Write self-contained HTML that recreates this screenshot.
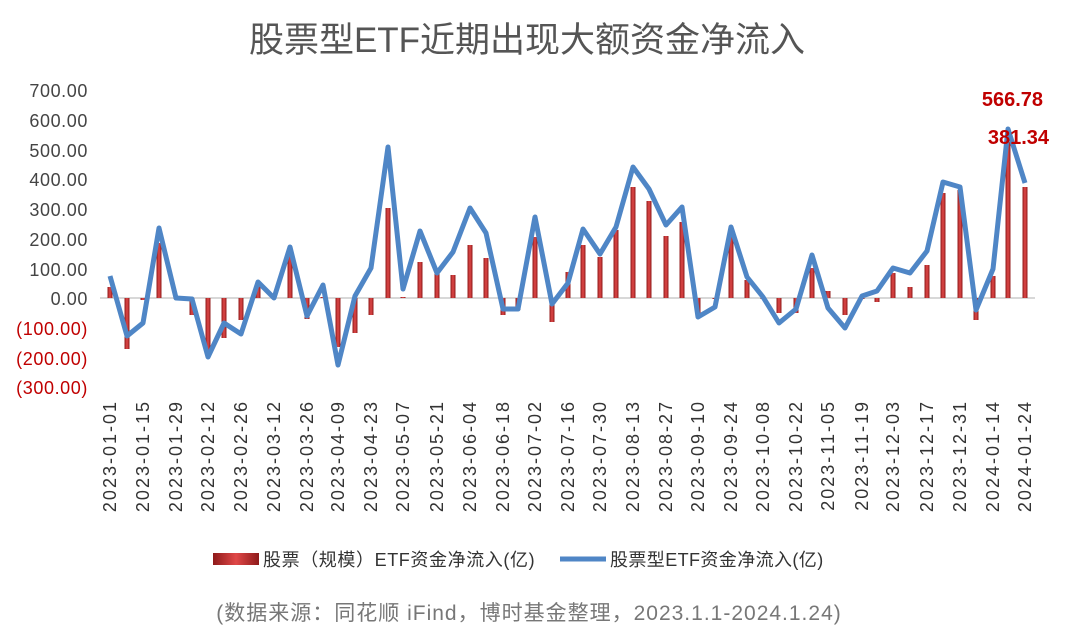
<!DOCTYPE html><html><head><meta charset="utf-8"><style>body{margin:0;background:#fff}svg{display:block}text{font-family:"Liberation Sans","Noto Sans CJK SC",sans-serif}</style></head><body>
<svg width="1078" height="633" viewBox="0 0 1078 633">
<defs><linearGradient id="g" x1="0" x2="1"><stop offset="0" stop-color="#8e1a1a"/><stop offset="0.5" stop-color="#e04848"/><stop offset="1" stop-color="#8e1a1a"/></linearGradient></defs>
<text x="527" y="52" text-anchor="middle" font-size="35" fill="#555">股票型ETF近期出现大额资金净流入</text>
<g font-size="18" letter-spacing="0.6" text-anchor="end">
<text x="88" y="97" fill="#444">700.00</text><text x="88" y="127" fill="#444">600.00</text><text x="88" y="157" fill="#444">500.00</text><text x="88" y="186" fill="#444">400.00</text><text x="88" y="216" fill="#444">300.00</text><text x="88" y="246" fill="#444">200.00</text><text x="88" y="276" fill="#444">100.00</text><text x="88" y="305" fill="#444">0.00</text><text x="88" y="335" fill="#c00000">(100.00)</text><text x="88" y="365" fill="#c00000">(200.00)</text><text x="88" y="394" fill="#c00000">(300.00)</text>
</g>
<line x1="100" y1="298" x2="1035" y2="298" stroke="#ccc" stroke-width="1.5"/>
<g id="bars" fill="url(#g)"></g>
<polyline fill="none" stroke="#4f86c6" stroke-width="5" stroke-linejoin="round" points="110,276 127,336 143,323 159,228 176,298 192,299 208,357 224,323 241,334 258,282 274,298 290,247 307,316 323,285 338,365 355,296 371,268 388,147 403,289 420,231 437,273 453,252 470,208 486,233 503,309 518,309 535,217 552,304 568,283 583,229 600,254 616,227 633,167 649,189 666,225 682,207 698,317 715,307 731,227 747,277 763,297 779,323 796,309 812,255 828,308 845,328 862,296 877,291 893,268 910,273 927,251 943,182 960,187 976,310 993,269 1008,129 1025,183"/>
<text x="1043" y="106" text-anchor="end" font-size="20" font-weight="bold" fill="#c00000">566.78</text>
<text x="1049" y="144" text-anchor="end" font-size="20" font-weight="bold" fill="#c00000">381.34</text>
<g id="xl" font-size="18" letter-spacing="2" fill="#333"></g>
<rect x="213" y="553" width="46" height="12" fill="url(#g)"/>
<text x="263" y="566" font-size="18" letter-spacing="0.6" fill="#333">股票（规模）ETF资金净流入(亿)</text>
<line x1="560" y1="559" x2="606" y2="559" stroke="#4f86c6" stroke-width="5"/>
<text x="610" y="566" font-size="18" letter-spacing="0.4" fill="#333">股票型ETF资金净流入(亿)</text>
<text x="529" y="620" text-anchor="middle" font-size="21" letter-spacing="1" fill="#777">(数据来源：同花顺 iFind，博时基金整理，2023.1.1-2024.1.24)</text>
</svg>
<script>
var xs=[110,127,143,159,176,192,208,224,241,258,274,290,307,323,338,355,371,388,403,420,437,453,470,486,503,518,535,552,568,583,600,616,633,649,666,682,698,715,731,747,763,779,796,812,828,845,862,877,893,910,927,943,960,976,993,1008,1025];
var ts=[287,349,300,243,298,315,350,338,320,283,296,253,319,297,347,333,315,208,297,262,272,275,245,258,315,310,237,322,272,245,257,230,187,201,236,222,313,298,237,280,298,313,313,268,291,315,298,302,273,287,265,193,190,320,276,142,187];
var s='';for(var i=0;i<xs.length;i++){var t=ts[i];var y=Math.min(t,298),h=Math.abs(t-298);if(h<1)h=1;s+='<rect x="'+(xs[i]-2.5)+'" y="'+y+'" width="5" height="'+h+'"/>';}
document.getElementById('bars').innerHTML=s;
var L=['2023-01-01','2023-01-15','2023-01-29','2023-02-12','2023-02-26','2023-03-12','2023-03-26','2023-04-09','2023-04-23','2023-05-07','2023-05-21','2023-06-04','2023-06-18','2023-07-02','2023-07-16','2023-07-30','2023-08-13','2023-08-27','2023-09-10','2023-09-24','2023-10-08','2023-10-22','2023-11-05','2023-11-19','2023-12-03','2023-12-17','2023-12-31','2024-01-14','2024-01-24'];
var q='';for(var j=0;j<L.length;j++){var x=j<28?xs[j*2]:1025;q+='<text transform="translate('+(x+6)+',400) rotate(-90)" text-anchor="end">'+L[j]+'</text>';}
document.getElementById('xl').innerHTML=q;
</script>
</body></html>
